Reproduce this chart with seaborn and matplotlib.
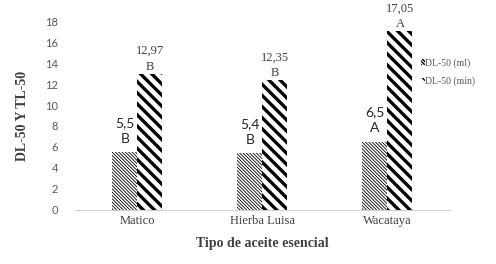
import matplotlib
matplotlib.use("Agg")
import matplotlib.pyplot as plt
import matplotlib.patches as mpatches
import numpy as np
import pandas as pd
import seaborn as sns

categories = ["Matico", "Hierba Luisa", "Wacataya"]
series = ["DL-50 (ml)", "DL-50 (min)"]
dl_ml = [5.5, 5.4, 6.5]
dl_min = [12.97, 12.35, 17.05]
ml_labels = ["5,5", "5,4", "6,5"]
min_labels = ["12,97", "12,35", "17,05"]
ml_letters = ["B", "B", "A"]
min_letters = ["B", "B", "A"]

df = pd.DataFrame({
    "cat": categories * 2,
    "serie": [series[0]] * 3 + [series[1]] * 3,
    "val": dl_ml + dl_min,
})

sns.set_style("white")

fig = plt.figure(figsize=(4.96, 2.64), dpi=100)
ax = fig.add_axes([0.151, 0.205, 0.756, 0.715])

sns.barplot(data=df, x="cat", y="val", hue="serie", order=categories,
            hue_order=series, color="white", width=0.4, saturation=1,
            errorbar=None, legend=False, ax=ax)

hatches = ["\\" * 10, "\\\\\\"]
hlw = [0.6, 2.4]
bars_ml = ax.patches[:3]
bars_min = ax.patches[3:6]
for k, group in enumerate([bars_ml, bars_min]):
    for p in group:
        p.set_facecolor("white")
        p.set_edgecolor("black")
        p.set_linewidth(0)
        p.set_hatch(hatches[k])
        try:
            p.set_hatch_linewidth(hlw[k])
        except AttributeError:
            pass

for p, v, l in zip(bars_ml, ml_labels, ml_letters):
    x = p.get_x() + p.get_width() / 2
    h = p.get_height()
    ax.text(x, h + 0.7, l, ha="center", va="bottom", fontsize=10,
            family="Lato", color="#262626")
    ax.text(x, h + 2.2, v, ha="center", va="bottom", fontsize=10,
            family="Lato", color="#262626")
for p, v, l in zip(bars_min, min_labels, min_letters):
    x = p.get_x() + p.get_width() / 2
    h = p.get_height()
    ax.text(x, h + 0.1, l, ha="center", va="bottom", fontsize=9,
            family="Liberation Serif", color="#404040")
    ax.text(x, h + 1.6, v, ha="center", va="bottom", fontsize=9,
            family="Liberation Serif", color="#404040")

ax.set_xlim(-0.5, 2.5)
ax.set_ylim(0, 18)
ax.set_yticks(range(0, 19, 2))
for s in ["top", "right", "left"]:
    ax.spines[s].set_visible(False)
ax.spines["bottom"].set_color("#d0d0d0")
ax.tick_params(axis="both", length=0, colors="#595959")
for t in ax.get_yticklabels():
    t.set_family("Lato")
    t.set_fontsize(8)
for t in ax.get_xticklabels():
    t.set_family("Liberation Serif")
    t.set_fontsize(9)
    t.set_color("#404040")
ax.tick_params(axis="y", pad=12)
ax.tick_params(axis="x", pad=4)
ax.set_xlabel("Tipo de aceite esencial", family="Liberation Serif",
              fontweight="bold", fontsize=10, color="#404040", labelpad=7)
ax.set_ylabel("DL-50 Y TL-50", family="Liberation Serif",
              fontweight="bold", fontsize=10, color="#404040", labelpad=12)

handles = []
for k in range(2):
    h = mpatches.Patch(facecolor="white", edgecolor="black", linewidth=0,
                       hatch=hatches[k])
    handles.append(h)
leg = ax.legend(handles, series, loc="upper left", bbox_to_anchor=(0.9, 0.85),
                frameon=False, handlelength=0.35, handleheight=0.5,
                handletextpad=0.1, labelspacing=0.9,
                prop={"family": "Liberation Serif", "size": 7})
for t in leg.get_texts():
    t.set_color("#595959")

fig.savefig("out.png", dpi=100)
